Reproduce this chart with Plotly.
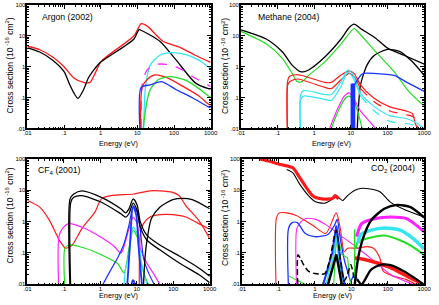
import plotly.graph_objects as go

# ---------------- Argon (2002) ----------------
AR_TOT_E = [0.01, 0.0218, 0.049, 0.1, 0.185, 0.34, 0.51, 0.70, 1.05, 8.1, 12.7, 18.3, 50, 141, 380, 1000]
AR_TOT_S = [4.6, 3.55, 2.07, 1.0, 0.43, 0.31, 0.31, 0.61, 1.51, 10.1, 24.9, 21, 6.7, 4.3, 2.35, 1.38]
AR_MT_E = [0.01, 0.0217, 0.049, 0.1, 0.136, 0.185, 0.24, 0.34, 0.46, 0.70, 0.95, 8.1, 11, 13.5, 41, 115, 380, 870, 1000]
AR_MT_S = [4.1, 3.0, 1.63, 0.69, 0.30, 0.142, 0.094, 0.18, 0.43, 0.885, 1.34, 7.9, 15.7, 14.6, 6.7, 1.63, 0.30, 0.195, 0.19]
AR_CY_E = [14.9, 16.5, 22.4, 41, 87, 212, 479, 900, 1000]
AR_CY_S = [0.01, 0.2, 1.13, 2.35, 2.85, 2.45, 1.63, 0.95, 0.9]
AR_MG_E = [12.7, 13.5, 18.3, 33.7, 62, 141, 319, 870, 1000]
AR_MG_S = [0.01, 0.26, 0.78, 1.19, 1.19, 0.885, 0.48, 0.25, 0.23]
AR_RD_E = [12.2, 13.5, 18.3, 30, 62, 176, 479, 870, 1000]
AR_RD_S = [0.01, 0.215, 0.38, 0.54, 0.45, 0.23, 0.112, 0.061, 0.057]
AR_GR_E = [14.3, 18.3, 22.4, 37, 77, 212, 479, 870, 1000]
AR_GR_S = [0.01, 0.077, 0.18, 0.38, 0.48, 0.36, 0.195, 0.112, 0.105]
AR_BL_E = [11.7, 12.7, 22.4, 46, 115, 319, 870, 1000]
AR_BL_S = [0.01, 0.215, 0.26, 0.33, 0.18, 0.099, 0.05, 0.047]

# ---------------- Methane (2004) ----------------
CH4_EL_E = [0.01, 0.049, 0.136, 0.25, 0.42, 0.54, 0.70, 1.94, 5.4, 9.0, 12.2, 19.4, 44, 100, 280, 1000]
CH4_EL_S = [15.7, 7.9, 3.0, 1.13, 0.69, 0.69, 0.78, 2.07, 7.9, 18.6, 23.8, 16.5, 9.0, 4.0, 2.35, 1.22]
CH4_MT_E = [0.01, 0.049, 0.136, 0.25, 0.34, 0.46, 0.70, 1.94, 5.4, 12.2, 14.6, 44, 150, 380, 1000]
CH4_MT_S = [13.9, 5.5, 1.84, 0.61, 0.33, 0.33, 0.52, 1.44, 5.5, 17.3, 14.6, 3.4, 0.69, 0.16, 0.053]
CH4_ION_E = [14.9, 16.5, 18.3, 27.5, 44, 100, 212, 479, 1000]
CH4_ION_S = [0.01, 0.077, 0.26, 1.13, 2.35, 3.64, 3.15, 1.44, 0.52]
CH4_V1_E = [0.185, 0.187, 0.21, 0.31, 0.46, 1.94, 2.92, 5.4, 9.0, 12.2, 18.3, 41, 115, 319, 479, 575, 680]
CH4_V1_S = [0.01, 0.33, 0.48, 0.55, 0.52, 0.31, 0.31, 0.54, 0.73, 0.61, 0.26, 0.099, 0.05, 0.037, 0.03, 0.014, 0.01]
CH4_V2_E = [0.185, 0.19, 0.22, 0.34, 1.94, 2.92, 5.4, 9.0, 12.2, 18.3]
CH4_V2_S = [0.01, 0.26, 0.33, 0.40, 0.215, 0.195, 0.38, 0.61, 0.48, 0.195]
CH4_V2D_E = [18.3, 41, 115, 319, 530, 680]
CH4_V2D_S = [0.195, 0.077, 0.037, 0.028, 0.023, 0.01]
CH4_C1_E = [0.42, 0.425, 0.51, 1.94, 2.92, 5.4, 8.1, 11, 18.3, 41, 115, 319, 575, 1000]
CH4_C1_S = [0.01, 0.126, 0.168, 0.126, 0.126, 0.33, 0.78, 0.61, 0.142, 0.054, 0.026, 0.021, 0.016, 0.01]
CH4_C2_E = [0.42, 0.43, 0.51, 1.94, 2.92, 5.4, 8.1, 11, 18.3]
CH4_C2_S = [0.01, 0.0875, 0.112, 0.0875, 0.081, 0.23, 0.66, 0.48, 0.112]
CH4_C2D_E = [18.3, 41, 115, 319, 575, 870]
CH4_C2D_S = [0.112, 0.039, 0.017, 0.0145, 0.0125, 0.01]
CH4_MG_E = [2.63, 4.5, 6.6, 9.0, 12.2, 18.3, 33.7, 47]
CH4_MG_S = [0.01, 0.0475, 0.112, 0.142, 0.0875, 0.037, 0.016, 0.01]
CH4_GR2_E = [2.92, 5.0, 7.3, 9.0, 12.2, 16.5, 20.3]
CH4_GR2_S = [0.01, 0.0475, 0.099, 0.112, 0.077, 0.026, 0.01]
CH4_BL_E = [12.4, 13.5, 18.8, 22.4, 41, 150, 360, 1000]
CH4_BL_S = [0.26, 0.30, 0.54, 0.61, 0.61, 0.52, 0.30, 0.16]
CH4_BAR_E = [10.6, 10.6, None, 11.0, 11.0, None, 11.4, 11.4, None, 11.8, 11.8, None, 12.2, 12.2]
CH4_BAR_S = [0.01, 0.28, None, 0.01, 0.28, None, 0.01, 0.28, None, 0.01, 0.28, None, 0.01, 0.28]

# ---------------- CF4 (2001) ----------------
CF4_MT_E = [0.01, 0.0218, 0.0403, 0.0745, 0.112, 0.169, 0.312, 0.71, 1.07, 1.97, 8.3, 23, 42.7, 97, 146, 220, 499, 1000]
CF4_MT_S = [4.7, 2.89, 1.10, 0.26, 0.142, 0.18, 0.60, 2.01, 5.3, 6.7, 7.6, 9.6, 9.6, 8.6, 6.7, 3.26, 1.1, 0.29]
CF4_RD2_E = [11.7, 12.5, 15.3, 23, 42.7, 97, 220, 499, 1000]
CF4_RD2_S = [0.01, 0.372, 0.865, 1.40, 1.66, 1.66, 1.40, 0.865, 0.574]
CF4_BK1_E = [0.146, 0.148, 0.187, 0.312, 1.07, 3.65, 4.96, 6.1, 7.95, 10.2, 12.5, 18.8, 42.7, 146, 499, 1000]
CF4_BK1_S = [0.01, 5.3, 7.6, 9.6, 5.95, 2.56, 1.9, 2.56, 5.3, 3.4, 0.98, 0.372, 0.18, 0.08, 0.0334, 0.0183]
CF4_BK2_E = [0.153, 0.155, 0.187, 0.312, 1.07, 3.65, 4.96, 6.1, 7.95, 10.2, 12.5, 18.8, 42.7, 146, 499, 1000]
CF4_BK2_S = [0.01, 4.15, 5.95, 6.7, 4.15, 1.78, 1.40, 1.78, 3.9, 2.27, 0.68, 0.26, 0.126, 0.048, 0.0206, 0.0113]
CF4_ION_E = [15.3, 16.8, 18.8, 25, 42.7, 97, 179, 331, 1000]
CF4_ION_S = [0.01, 0.069, 0.23, 1.24, 2.89, 5.0, 5.5, 5.0, 2.56]
CF4_MG_E = [0.0714, 0.073, 0.091, 0.138, 0.384, 1.07, 2.42, 3.65, 4.3, 6.1, 7.95, 10.2, 12.5, 18.8, 28, 42.7]
CF4_MG_S = [0.01, 0.33, 0.60, 0.865, 0.60, 0.31, 0.16, 0.099, 0.142, 0.60, 1.40, 0.865, 0.142, 0.048, 0.0232, 0.01]
CF4_GR_E = [0.105, 0.107, 0.138, 0.384, 1.07, 2.97, 4.48, 6.1, 7.95, 10.2, 12.5, 18.8, 21]
CF4_GR_S = [0.01, 0.142, 0.18, 0.142, 0.0875, 0.046, 0.0232, 0.142, 0.535, 0.33, 0.054, 0.0127, 0.01]
CF4_CY_E = [4.48, 4.96, 6.1, 7.95, 10.2, 13.8, 18.8]
CF4_CY_S = [0.01, 0.0334, 0.0875, 0.68, 0.42, 0.0425, 0.01]
CF4_BL1_E = [1.18, 1.97, 2.97, 4.48, 6.1, 7.95, 10.2, 12.5, 15.3, 21, 30]
CF4_BL1_S = [0.01, 0.03, 0.069, 0.2, 0.77, 2.89, 2.01, 0.535, 0.069, 0.0232, 0.01]
CF4_BL2_E = [5.5, 6.4, 7.95, 9.7, 11.3, 13.8]
CF4_BL2_S = [0.01, 0.142, 3.1, 1.58, 0.142, 0.01]
CF4_BL3_E = [7.3, 7.5, 7.9, 8.4, 8.6]
CF4_BL3_S = [0.01, 0.0125, 0.0135, 0.0125, 0.01]

# ---------------- CO2 (2004) ----------------
CO2_MT_E = [0.031, 0.057, 0.114, 0.25, 0.385, 0.87, 1.6, 3.1, 3.6, 4.5]
CO2_MT_S = [100, 84.5, 66, 52, 25.3, 6.7, 5.3, 5.5, 6.7, 5.3]
CO2_TOT_E = [0.17, 0.25, 0.385, 0.67, 1.01, 1.87, 3.1, 3.85, 4.72, 5.8, 7.9, 11.9, 17.6, 33, 61, 120, 316, 1000]
CO2_TOT_S = [46, 36, 15.6, 6.7, 4.35, 3.86, 5.3, 6.2, 5.5, 4.7, 6.7, 9.6, 11.4, 11.0, 9.0, 4.1, 2.3, 1.4]
CO2_RD_E = [0.086, 0.088, 0.106, 0.17, 0.31, 0.87, 2.0, 3.85, 5.0, 6.4, 7.9, 14.6, 27, 40.7, 61, 75, 139, 316, 587]
CO2_RD_S = [0.01, 1.24, 1.9, 1.9, 1.58, 0.77, 0.42, 1.9, 0.60, 0.11, 0.142, 0.142, 0.16, 0.142, 0.069, 0.0263, 0.0183, 0.0144, 0.01]
CO2_BL_E = [0.188, 0.19, 0.24, 0.33, 0.547, 1.01, 2.3, 3.47, 4.1, 5.0, 6.4, 7.9, 9.7, 11.9, 14.6, 17.9]
CO2_BL_S = [0.01, 0.60, 0.93, 0.93, 0.42, 0.33, 0.39, 0.77, 1.17, 0.292, 0.062, 0.0263, 0.0127, 0.0206, 0.0144, 0.01]
CO2_MG_E = [0.314, 0.32, 0.40, 0.547, 1.01, 2.0, 5.2, 15.4, 40.7, 120, 490]
CO2_MG_S = [0.01, 0.60, 0.93, 1.24, 1.2, 0.8, 0.35, 0.142, 0.057, 0.0206, 0.01]
CO2_GR_E = [0.196, 0.36, 0.547]
CO2_GR_S = [0.0183, 0.0127, 0.01]
CO2_BD_E = [0.34, 0.345, 0.40, 0.49, 0.67, 1.01, 1.87, 2.5, 3.85, 5.0, 6.4, 7.9, 9.7, 11.9]
CO2_BD_S = [0.01, 0.0875, 0.069, 0.0425, 0.0263, 0.022, 0.022, 0.053, 0.535, 0.069, 0.0127, 0.0206, 0.0425, 0.016]
CO2_RB_E = [1.7, 3.0, 3.9, 5.0, 6.5]
CO2_RB_S = [0.01, 0.1, 0.75, 0.06, 0.01]
CO2_RC_E = [2.0, 3.3, 3.9, 4.8, 6.2]
CO2_RC_S = [0.01, 0.08, 0.35, 0.04, 0.01]
CO2_RG_E = [1.6, 3.0, 3.85, 5.2, 7.0]
CO2_RG_S = [0.01, 0.05, 0.25, 0.03, 0.01]
CO2_RG2_E = [3.3, 4.0, 5.5, 7.9, 9.5]
CO2_RG2_S = [0.01, 0.5, 0.09, 0.07, 0.01]
CO2_RK_E = [2.3, 3.9, 5.5]
CO2_RK_S = [0.01, 0.09, 0.01]
CO2_GV_E = [12.4, 12.4]
CO2_GV_S = [0.01, 0.56]
CO2_GT_E = [13.2, 15.4, 27, 80, 210, 477, 1000]
CO2_GT_S = [0.142, 0.23, 0.29, 0.36, 0.26, 0.16, 0.085]
CO2_CT_E = [15.4, 17.6, 35, 80, 220, 490, 1000]
CO2_CT_S = [0.2, 0.372, 0.535, 0.63, 0.535, 0.292, 0.135]
CO2_MT2_E = [14, 19.2, 43, 120, 330, 1000]
CO2_MT2_S = [0.33, 0.865, 1.24, 1.40, 1.24, 0.473]
CO2_ION_E = [12.5, 15.4, 21, 35, 80, 180, 420, 1000]
CO2_ION_S = [0.01, 0.069, 0.292, 1.10, 2.56, 3.42, 2.89, 1.35]
CO2_RT_E = [12.6, 23, 52, 120, 275, 620, 840]
CO2_RT_S = [0.069, 0.062, 0.048, 0.034, 0.0206, 0.0127, 0.01]
CO2_KL_E = [14.6, 19.2, 35, 67, 120, 275, 620, 960]
CO2_KL_S = [0.0144, 0.01, 0.0296, 0.0425, 0.041, 0.0263, 0.0144, 0.01]

X_TICKS = [0.01, 0.1, 1, 10, 100, 1000]
X_TEXT = [".01", ".1", "1", "10", "100", "1000"]
Y_TICKS = [0.01, 0.1, 1, 10, 100]
Y_TEXT = [".01", ".1", "1", "10", "100"]
PANEL_TITLES = ["Argon (2002)", "Methane (2004)", "CF<sub>4</sub> (2001)", "CO<sub>2</sub> (2004)"]

BLACK = "#000000"
RED = "#ff1a1a"
GREEN = "#22dd22"
CYAN = "#33e6f0"
MAG = "#ff22ff"
BLUE = "#1a33ff"

fig = go.Figure()


def add(panel, xs, ys, color, width=1.2, dash="solid", smooth=True):
    ax = "" if panel == 1 else str(panel)
    line = dict(color=color, width=width, dash=dash)
    if smooth:
        line.update(shape="spline", smoothing=0.7)
    fig.add_trace(go.Scatter(x=xs, y=ys, mode="lines", xaxis="x" + ax, yaxis="y" + ax,
                             line=line, hoverinfo="skip", showlegend=False, connectgaps=False))


# Argon
add(1, AR_TOT_E, AR_TOT_S, RED, 1.3)
add(1, AR_MT_E, AR_MT_S, BLACK, 1.3)
add(1, AR_CY_E, AR_CY_S, CYAN, 1.3)
add(1, AR_MG_E, AR_MG_S, MAG, 1.3, "dash")
add(1, AR_RD_E, AR_RD_S, RED, 1.3)
add(1, AR_GR_E, AR_GR_S, GREEN, 1.3)
add(1, AR_BL_E, AR_BL_S, BLUE, 1.3)

# Methane
add(2, CH4_MT_E, CH4_MT_S, GREEN, 1.2)
add(2, CH4_EL_E, CH4_EL_S, BLACK, 1.3)
add(2, CH4_ION_E, CH4_ION_S, BLACK, 1.3)
add(2, CH4_V1_E, CH4_V1_S, RED, 1.2)
add(2, CH4_V2_E, CH4_V2_S, RED, 1.2)
add(2, CH4_V2D_E, CH4_V2D_S, RED, 1.2, "dash")
add(2, CH4_C1_E, CH4_C1_S, CYAN, 1.2)
add(2, CH4_C2_E, CH4_C2_S, CYAN, 1.2)
add(2, CH4_C2D_E, CH4_C2D_S, CYAN, 1.2, "dash")
add(2, CH4_MG_E, CH4_MG_S, MAG, 1.2)
add(2, CH4_GR2_E, CH4_GR2_S, GREEN, 1.2)
add(2, CH4_BAR_E, CH4_BAR_S, BLUE, 2.5, smooth=False)
add(2, CH4_BL_E, CH4_BL_S, BLUE, 1.3)

# CF4
add(3, CF4_MT_E, CF4_MT_S, RED, 1.2)
add(3, CF4_RD2_E, CF4_RD2_S, RED, 1.2)
add(3, CF4_MG_E, CF4_MG_S, MAG, 1.2)
add(3, CF4_GR_E, CF4_GR_S, GREEN, 1.2)
add(3, CF4_CY_E, CF4_CY_S, CYAN, 1.2)
add(3, CF4_BL1_E, CF4_BL1_S, BLUE, 1.2)
add(3, CF4_BL2_E, CF4_BL2_S, BLUE, 1.8)
add(3, CF4_BL3_E, CF4_BL3_S, BLUE, 1.8)
add(3, CF4_BK1_E, CF4_BK1_S, BLACK, 1.3)
add(3, CF4_BK2_E, CF4_BK2_S, BLACK, 1.3)
add(3, CF4_ION_E, CF4_ION_S, BLACK, 1.3)

# CO2
add(4, CO2_TOT_E, CO2_TOT_S, BLACK, 1.1)
add(4, CO2_MT_E, CO2_MT_S, RED, 3.2)
add(4, CO2_RD_E, CO2_RD_S, RED, 1.1)
add(4, CO2_MG_E, CO2_MG_S, MAG, 1.1)
add(4, CO2_BL_E, CO2_BL_S, BLUE, 1.3)
add(4, CO2_GR_E, CO2_GR_S, GREEN, 1.1)
add(4, CO2_RG_E, CO2_RG_S, GREEN, 1.1, smooth=False)
add(4, CO2_RG2_E, CO2_RG2_S, GREEN, 1.1, smooth=False)
add(4, CO2_RC_E, CO2_RC_S, CYAN, 1.3, smooth=False)
add(4, CO2_RB_E, CO2_RB_S, BLUE, 2.0, smooth=False)
add(4, CO2_BD_E, CO2_BD_S, BLACK, 1.5, "6px,3px")
add(4, CO2_RK_E, CO2_RK_S, BLACK, 2.5, smooth=False)
add(4, CO2_GV_E, CO2_GV_S, GREEN, 1.5, smooth=False)
add(4, CO2_RT_E, CO2_RT_S, RED, 3.5)
add(4, CO2_GT_E, CO2_GT_S, GREEN, 2.0)
add(4, CO2_CT_E, CO2_CT_S, CYAN, 3.5)
add(4, CO2_MT2_E, CO2_MT2_S, MAG, 3.0)
add(4, CO2_KL_E, CO2_KL_S, BLACK, 2.3)
add(4, CO2_ION_E, CO2_ION_S, BLACK, 2.4)

W, H = 439, 305
# plot-area pixel boxes (left, right, top, bottom)
boxes = {1: (24, 212, 2, 128), 2: (243, 431, 2, 128), 3: (24, 211, 159, 287), 4: (244, 431, 159, 287)}

minor_vals = [m * 10 ** k for k in range(-2, 3) for m in range(2, 10)]
axis_common = dict(type="log", showline=True, linecolor="black", linewidth=1.5, mirror="allticks",
                   ticks="inside", ticklen=4, tickwidth=1, tickcolor="black", showgrid=False, zeroline=False,
                   tickfont=dict(family="Liberation Sans, Arial", size=6, color="black"))
layout = dict(width=W, height=H, margin=dict(l=0, r=0, t=0, b=0), paper_bgcolor="white",
              plot_bgcolor="white", showlegend=False)
for p, (l, r, t, b) in boxes.items():
    ax = "" if p == 1 else str(p)
    layout["xaxis" + ax] = dict(axis_common, domain=[l / W, r / W], range=[-2, 3], anchor="y" + ax,
                               tickmode="array", tickvals=X_TICKS, ticktext=X_TEXT, ticklabelstandoff=-2,
                               minor=dict(tickmode="array", tickvals=minor_vals, ticks="inside", ticklen=2,
                                          tickcolor="black", showgrid=False))
    layout["yaxis" + ax] = dict(axis_common, domain=[1 - b / H, 1 - t / H], range=[-2, 2], anchor="x" + ax,
                               tickmode="array", tickvals=Y_TICKS, ticktext=Y_TEXT, ticklabelstandoff=-1,
                               minor=dict(tickmode="array", tickvals=minor_vals, ticks="inside", ticklen=2,
                                          tickcolor="black", showgrid=False))
fig.update_layout(**layout)

FONT = "Liberation Sans, Arial"
ann = []
# panel titles
for (px, py), txt in zip([(37, 14), (258, 14), (33, 171), (374, 169)], PANEL_TITLES):
    ann.append(dict(x=px / W, y=1 - py / H, xref="paper", yref="paper", text=txt, showarrow=False,
                    xanchor="left", yanchor="middle", font=dict(family=FONT, size=8.7, color="black")))
# axis titles
for cx, cy in [(117, 143), (336, 143), (117, 298), (337, 298)]:
    ann.append(dict(x=cx / W, y=1 - cy / H, xref="paper", yref="paper", text="Energy (eV)", showarrow=False,
                    xanchor="center", yanchor="middle", borderpad=0,
                    font=dict(family=FONT, size=7.3, color="black")))
for cx, cy in [(6, 64), (227, 64), (6, 217), (227, 219)]:
    ann.append(dict(x=cx / W, y=1 - cy / H, xref="paper", yref="paper",
                    text="Cross section (10<sup> -16</sup> cm<sup>2</sup>)", showarrow=False, textangle=-90,
                    xanchor="center", yanchor="middle", font=dict(family=FONT, size=8.5, color="black")))
fig.update_layout(annotations=ann)

fig.write_html("out.html", config={"displayModeBar": False},
               post_script="document.body.style.margin='0';document.body.style.overflow='hidden';")
